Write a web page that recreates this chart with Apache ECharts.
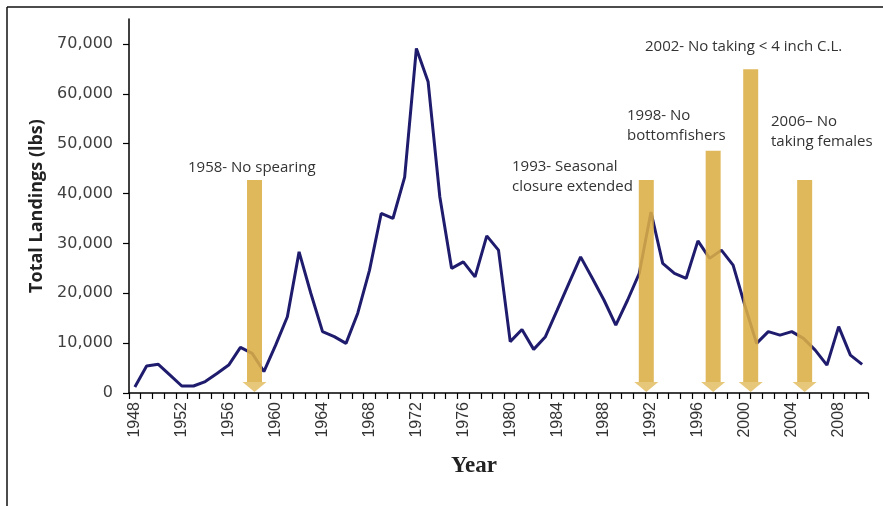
<!DOCTYPE html>
<html>
<head>
<meta charset="utf-8">
<script src="https://cdn.jsdelivr.net/npm/echarts@6/dist/echarts.min.js"></script>
<style>
html,body{margin:0;padding:0;background:#fff;}
#c{width:883px;height:506px;}
</style>
</head>
<body>
<div id="c"></div>
<script>
// ---- data ----
const years = [];
for (let y = 1948; y <= 2010; y++) years.push(String(y));
const landings = [
  1200, 5400, 5750, 3600, 1400, 1400, 2300, 3900, 5600, 9150,
  7950, 4300, 9600, 15300, 28300, 20000, 12300, 11300, 9950, 16000,
  24600, 36000, 35000, 43300, 69100, 62400, 39300, 25000, 26300, 23300,
  31500, 28650, 10300, 12750, 8750, 11300, 16600, 22000, 27300, 23000,
  18600, 13600, 18600, 24000, 36300, 26000, 24000, 23000, 30500, 27000,
  28650, 25650, 17600, 9950, 12300, 11600, 12300, 10950, 8600, 5600,
  13300, 7600, 5750
];
const arrowYears = [1958.2, 1991.6, 1997.3, 2000.5, 2005.1];
const arrowTops  = [42700, 42700, 48600, 64900, 42700];
const noteTexts = [
  '1958- No spearing',
  '1993- Seasonal\nclosure extended',
  '1998- No\nbottomfishers',
  '2002- No taking < 4 inch C.L.',
  '2006\u2013 No\ntaking females'
];
const yTicks = [0, 10000, 20000, 30000, 40000, 50000, 60000, 70000];

// ---- chart ----
const chart = echarts.init(document.getElementById('c'), null, {renderer: 'canvas'});
const notePos = [[188, 158], [512, 157], [627, 106], [645, 37], [771, 112]];
const noteGraphics = noteTexts.map((t, i) => ({
  type: 'text', left: notePos[i][0], top: notePos[i][1],
  style: {text: t, font: '15px "Open Sans"', fill: '#333', lineHeight: 20}
}));

const arrowData = arrowYears.map((x, i) => [x, arrowTops[i]]);

chart.setOption({
  animation: false,
  backgroundColor: '#fff',
  grid: {left: 129, right: 15, top: 19, bottom: 113, containLabel: false},
  xAxis: [{
    type: 'category',
    data: years,
    boundaryGap: true,
    axisLine: {lineStyle: {color: '#000', width: 1.5}},
    axisTick: {show: true, interval: 0, length: 6, lineStyle: {color: '#000', width: 1.2}},
    axisLabel: {
      interval: 3, rotate: 90, margin: 9, color: '#333',
      fontFamily: 'Liberation Sans', fontSize: 16
    },
    splitLine: {show: false}
  }, {
    type: 'value', min: 1947.5, max: 2010.5, show: false
  }],
  yAxis: {
    type: 'value', min: 0, max: 75000, interval: 10000,
    axisLine: {show: true, lineStyle: {color: '#000', width: 1.5}},
    axisTick: {show: true, length: 6, lineStyle: {color: '#000', width: 1.2}},
    axisLabel: {
      showMaxLabel: false, margin: 16, color: '#404040',
      fontFamily: 'DejaVu Sans', fontSize: 16,
      formatter: v => (yTicks.indexOf(v) >= 0 ? v.toLocaleString('en-US') : '')
    },
    splitLine: {show: false},
    name: 'Total Landings (lbs)',
    nameLocation: 'middle', nameGap: 80,
    nameTextStyle: {fontFamily: 'Open Sans', fontWeight: 'bold', fontSize: 18, color: '#222'}
  },
  series: [{
    type: 'line',
    data: landings,
    xAxisIndex: 0,
    symbol: 'none',
    lineStyle: {color: '#1f1c6e', width: 3},
    z: 2
  }, {
    type: 'custom',
    xAxisIndex: 1,
    yAxisIndex: 0,
    data: arrowData,
    z: 3,
    renderItem: function (params, api) {
      const top = api.coord([api.value(0), api.value(1)]);
      const bot = api.coord([api.value(0), 0]);
      const cx = top[0];
      const headH = 11;
      return {
        type: 'group',
        children: [{
          type: 'rect',
          shape: {x: cx - 7.5, y: top[1], width: 15, height: bot[1] - headH - top[1]},
          style: {fill: '#dcae45', opacity: 0.88}
        }, {
          type: 'polygon',
          shape: {points: [[cx - 12, bot[1] - headH], [cx + 12, bot[1] - headH], [cx, bot[1] - 1]]},
          style: {fill: '#e3bd62', opacity: 0.85}
        }]
      };
    }
  }],
  graphic: [
    {type: 'line', shape: {x1: 7, y1: 7, x2: 883, y2: 7}, style: {stroke: '#111', lineWidth: 1.5}},
    {type: 'line', shape: {x1: 7, y1: 7, x2: 7, y2: 506}, style: {stroke: '#111', lineWidth: 1.5}},
    {type: 'text', left: 451, top: 455, style: {text: 'Year', font: 'bold 23px "Liberation Serif"', fill: '#222'}}
  ].concat(noteGraphics)
});
</script>
</body>
</html>
